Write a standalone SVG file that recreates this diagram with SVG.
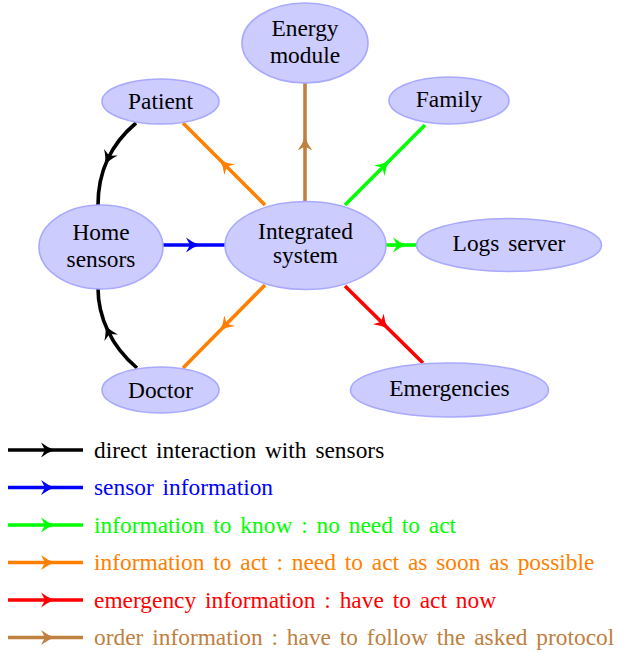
<svg xmlns="http://www.w3.org/2000/svg" width="619" height="654" viewBox="0 0 619 654">
<style>
.node ellipse{fill:#ccccff;stroke:#a9a9ff;stroke-width:1.6}
.t{font-family:"Liberation Serif","Times New Roman",serif;font-size:23.4px}
.node text{text-anchor:middle;fill:#000}
.leg{word-spacing:3px}
.e{fill:none;stroke-width:3.6}
.k{stroke:#000}.b{stroke:#0000ff}.g{stroke:#00ff00}.o{stroke:#ff8000}.r{stroke:#ff0000}.w{stroke:#bf8040}
</style>
<defs>
<marker id="mk" markerUnits="userSpaceOnUse" viewBox="-9 -9 18 18" markerWidth="18" markerHeight="18" refX="0" refY="0" orient="auto"><path d="M6,0 Q-1,-2 -8,-7.5 L-4,0 L-8,7.5 Q-1,2 6,0 Z" fill="#000"/></marker>
<marker id="mb" markerUnits="userSpaceOnUse" viewBox="-9 -9 18 18" markerWidth="18" markerHeight="18" refX="0" refY="0" orient="auto"><path d="M6,0 Q-1,-2 -8,-7.5 L-4,0 L-8,7.5 Q-1,2 6,0 Z" fill="#0000ff"/></marker>
<marker id="mg" markerUnits="userSpaceOnUse" viewBox="-9 -9 18 18" markerWidth="18" markerHeight="18" refX="0" refY="0" orient="auto"><path d="M6,0 Q-1,-2 -8,-7.5 L-4,0 L-8,7.5 Q-1,2 6,0 Z" fill="#00ff00"/></marker>
<marker id="mo" markerUnits="userSpaceOnUse" viewBox="-9 -9 18 18" markerWidth="18" markerHeight="18" refX="0" refY="0" orient="auto"><path d="M6,0 Q-1,-2 -8,-7.5 L-4,0 L-8,7.5 Q-1,2 6,0 Z" fill="#ff8000"/></marker>
<marker id="mr" markerUnits="userSpaceOnUse" viewBox="-9 -9 18 18" markerWidth="18" markerHeight="18" refX="0" refY="0" orient="auto"><path d="M6,0 Q-1,-2 -8,-7.5 L-4,0 L-8,7.5 Q-1,2 6,0 Z" fill="#ff0000"/></marker>
<marker id="mw" markerUnits="userSpaceOnUse" viewBox="-9 -9 18 18" markerWidth="18" markerHeight="18" refX="0" refY="0" orient="auto"><path d="M6,0 Q-1,-2 -8,-7.5 L-4,0 L-8,7.5 Q-1,2 6,0 Z" fill="#bf8040"/></marker>
</defs>

<g id="connectors">
<path class="e k" marker-mid="url(#mk)" d="M136,123 Q117,139 107.5,159.5 Q98,180 98,205"/>
<path class="e k" marker-mid="url(#mk)" d="M137,368 Q117.5,351.5 107.75,330.5 Q98,310 98,288"/>
<path class="e b" marker-mid="url(#mb)" d="M163,245 L194,245 L225,245"/>
<path class="e o" marker-mid="url(#mo)" d="M265,205 L224,164 L183,123"/>
<path class="e o" marker-mid="url(#mo)" d="M265,285 L224,326.5 L183,368"/>
<path class="e w" marker-mid="url(#mw)" d="M305,202 L305,142.5 L305,83"/>
<path class="e g" marker-mid="url(#mg)" d="M345,205 L385,165 L425,125"/>
<path class="e g" marker-mid="url(#mg)" d="M385,245 L401,245 L417,245"/>
<path class="e r" marker-mid="url(#mr)" d="M345,286 L384,324.5 L423,363"/>
</g>

<g id="energy" class="node"><ellipse cx="305" cy="43" rx="63" ry="40"/><text class="t" x="305" y="36">Energy</text><text class="t" x="305" y="63">module</text></g>
<g id="patient" class="node"><ellipse cx="160.5" cy="101.5" rx="58.5" ry="22.5"/><text class="t" x="160.5" y="108.5">Patient</text></g>
<g id="family" class="node"><ellipse cx="449" cy="100.5" rx="60" ry="23.5"/><text class="t" x="449" y="107">Family</text></g>
<g id="home" class="node"><ellipse cx="101" cy="247" rx="62" ry="42"/><text class="t" x="101" y="240">Home</text><text class="t" x="101" y="266.5">sensors</text></g>
<g id="integrated" class="node"><ellipse cx="305.5" cy="245.5" rx="80.5" ry="44"/><text class="t" x="305.5" y="238.5">Integrated</text><text class="t" x="305.5" y="263">system</text></g>
<g id="logs" class="node"><ellipse cx="509" cy="245" rx="92.5" ry="26.5"/><text class="t leg" x="509" y="251">Logs server</text></g>
<g id="doctor" class="node"><ellipse cx="160.5" cy="390" rx="58.5" ry="23"/><text class="t" x="160.5" y="397.5">Doctor</text></g>
<g id="emergencies" class="node"><ellipse cx="449.5" cy="390" rx="99" ry="27"/><text class="t" x="449.5" y="396">Emergencies</text></g>

<g id="legend">
<path class="e k" marker-mid="url(#mk)" d="M8,450 L49,450 L83,450"/>
<path class="e b" marker-mid="url(#mb)" d="M8,487.5 L49,487.5 L83,487.5"/>
<path class="e g" marker-mid="url(#mg)" d="M8,525 L49,525 L83,525"/>
<path class="e o" marker-mid="url(#mo)" d="M8,562.5 L49,562.5 L83,562.5"/>
<path class="e r" marker-mid="url(#mr)" d="M8,600 L49,600 L83,600"/>
<path class="e w" marker-mid="url(#mw)" d="M8,637.5 L49,637.5 L83,637.5"/>
<text class="t leg" x="94" y="457.5" fill="#000">direct interaction with sensors</text>
<text class="t leg" x="94" y="495" fill="#0000ff">sensor information</text>
<text class="t leg" x="94" y="532.5" fill="#00ff00">information to know : no need to act</text>
<text class="t leg" x="94" y="570" fill="#ff8000">information to act : need to act as soon as possible</text>
<text class="t leg" x="94" y="607.5" fill="#ff0000">emergency information : have to act now</text>
<text class="t leg" x="94" y="645" fill="#bf8040">order information : have to follow the asked protocol</text>
</g>
</svg>
